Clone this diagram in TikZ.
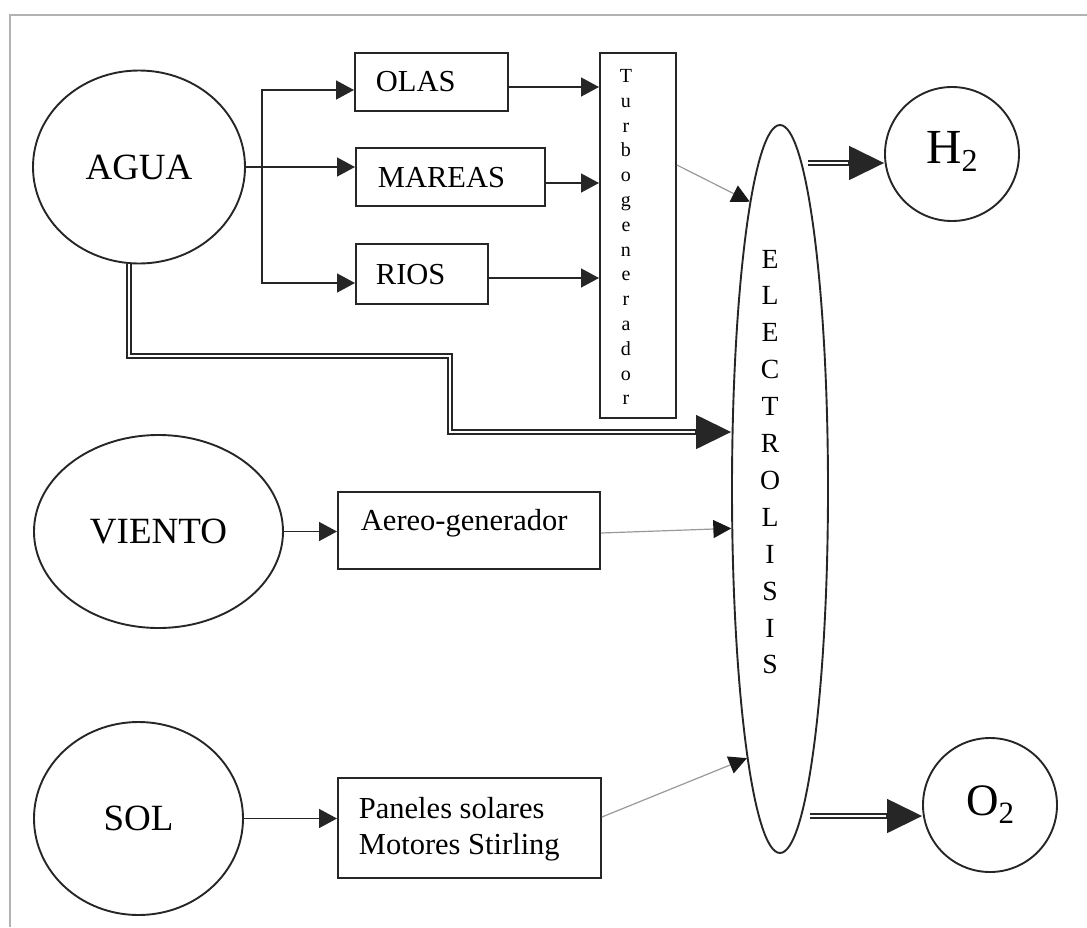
\documentclass[tikz,border=0pt]{standalone}
\usepackage{fontspec}
\setmainfont{Liberation Serif}
\usetikzlibrary{arrows.meta,shapes.geometric,calc}
\newcommand{\btxt}[4]{\makebox[#1][l]{\hspace*{#2}\raisebox{#3}[0pt][0pt]{#4}}}
\begin{document}
\begin{tikzpicture}[x=1pt,y=-1pt,
  ln/.style={draw=black!85,line width=1.9pt},
  circ/.style={ellipse,ln,inner sep=0pt,font=\fontsize{37}{40}\selectfont},
  bx/.style={rectangle,ln,inner sep=0pt,anchor=north west,font=\fontsize{30.5}{36}\selectfont},
  arr/.style={draw=black!85,line width=1.5pt,-{Triangle[length=18pt,width=19pt]}},
  garr/.style={draw=black!40,line width=1.2pt,-{Triangle[length=18pt,width=18pt,color=black!90]}},
  dbl/.style={draw=black!85,double=white,double distance=2.2pt,line width=1.6pt},
  bigtip/.style={draw=black!85,line width=1.5pt,-{Triangle[length=35pt,width=34pt]}},
  framec/.style={draw=black!30,line width=1.5pt}
]
\useasboundingbox (0,0) rectangle (1087,927);
\draw[framec] (10,927) -- (10,15) -- (1087,15);

% sources
\node[circ,minimum width=212pt,minimum height=193pt] (agua) at (139,167) {AGUA};
\node[circ,minimum width=249pt,minimum height=193pt] (viento) at (158.5,531.5) {VIENTO};
\node[circ,minimum width=209pt,minimum height=193pt] (sol) at (138.5,818.5) {SOL};

% boxes
\node[bx,minimum width=153pt,minimum height=58pt] (olas) at (354,52) {\btxt{153pt}{21pt}{-10pt}{OLAS}};
\node[bx,minimum width=189pt,minimum height=58pt] (mareas) at (355,147) {\btxt{189pt}{22pt}{-10.5pt}{MAREAS}};
\node[bx,minimum width=132pt,minimum height=60pt] (rios) at (355,243) {\btxt{132pt}{20pt}{-11pt}{RIOS}};
\node[bx,minimum width=262pt,minimum height=77pt] (aereo) at (337,491) {\btxt{262pt}{23pt}{0pt}{Aereo-generador}};
\node[bx,minimum width=263pt,minimum height=100pt] (paneles) at (337,777)
  {\makebox[263pt][l]{\hspace*{21pt}\rlap{\raisebox{9pt}[0pt][0pt]{Paneles solares}}\raisebox{-27pt}[0pt][0pt]{Motores Stirling}}};
\node[bx,minimum width=76pt,minimum height=365pt] (turbo) at (599,52)
  {\hspace*{-24pt}\raisebox{153pt}[0pt][0pt]{\parbox[t]{28pt}{\centering\fontsize{20}{24.8}\selectfont T\\u\\r\\b\\o\\g\\e\\n\\e\\r\\a\\d\\o\\r}}};

% electrolisis
\node[ellipse,ln,inner sep=0pt,minimum width=96pt,minimum height=728pt] (electro) at (780,489)
  {\hspace*{-20pt}\raisebox{221pt}[0pt][0pt]{\parbox[t]{28pt}{\centering\fontsize{27.7}{36.9}\selectfont E\\L\\E\\C\\T\\R\\O\\L\\I\\S\\I\\S}}};

% products
\node[circle,ln,inner sep=0pt,minimum size=134pt,font=\fontsize{49}{50}\selectfont] (h2) at (952,154)
  {\raisebox{-9pt}[0pt][0pt]{H\raisebox{-8pt}{\fontsize{32}{32}\selectfont 2}}};
\node[circle,ln,inner sep=0pt,minimum size=134pt,font=\fontsize{45}{50}\selectfont] (o2) at (990,805)
  {\raisebox{-10pt}[0pt][0pt]{O\raisebox{-8pt}{\fontsize{31}{31}\selectfont 2}}};

% AGUA branches
\coordinate (j) at (262,167);
\draw[arr] (agua.east) -- (agua.east -| mareas.west);
\draw[arr] (j) |- (olas.west |- 0,90);
\draw[arr] (j) |- (rios.west |- 0,283);

% to turbogenerador
\draw[arr] (olas.east |- 0,87) -- (turbo.west |- 0,87);
\draw[arr] (mareas.east |- 0,183) -- (turbo.west |- 0,183);
\draw[arr] (rios.east |- 0,278) -- (turbo.west |- 0,278);

% source to converter
\draw[arr] (viento.east) -- (aereo.west |- viento.east);
\draw[arr] (sol.east) -- (paneles.west |- sol.east);

% to electrolisis (thin gray)
\draw[garr] (turbo.east |- 0,165) -- (electro.96.7);
\draw[garr] (aereo.east |- 0,533) -- (electro.219);
\draw[garr] (paneles.east |- 0,817) -- (electro.263.6);

% AGUA double line to electrolisis
\coordinate (ae) at (450,432);
\draw[dbl,shorten >=33pt] (agua.264) |- (450,356) |- (ae -| electro.west);
\draw[bigtip] ([xshift=-36pt]ae -| electro.west) -- (ae -| electro.west);

% products
\coordinate (h2s) at (808,163);
\coordinate (o2s) at (810,816);
\draw[dbl,shorten >=33pt] (h2s) -- (h2.west |- h2s);
\draw[bigtip] ([xshift=-36pt]h2.west |- h2s) -- (h2.west |- h2s);
\draw[dbl,shorten >=33pt] (o2s) -- (o2.west |- o2s);
\draw[bigtip] ([xshift=-36pt]o2.west |- o2s) -- (o2.west |- o2s);
\end{tikzpicture}
\end{document}
